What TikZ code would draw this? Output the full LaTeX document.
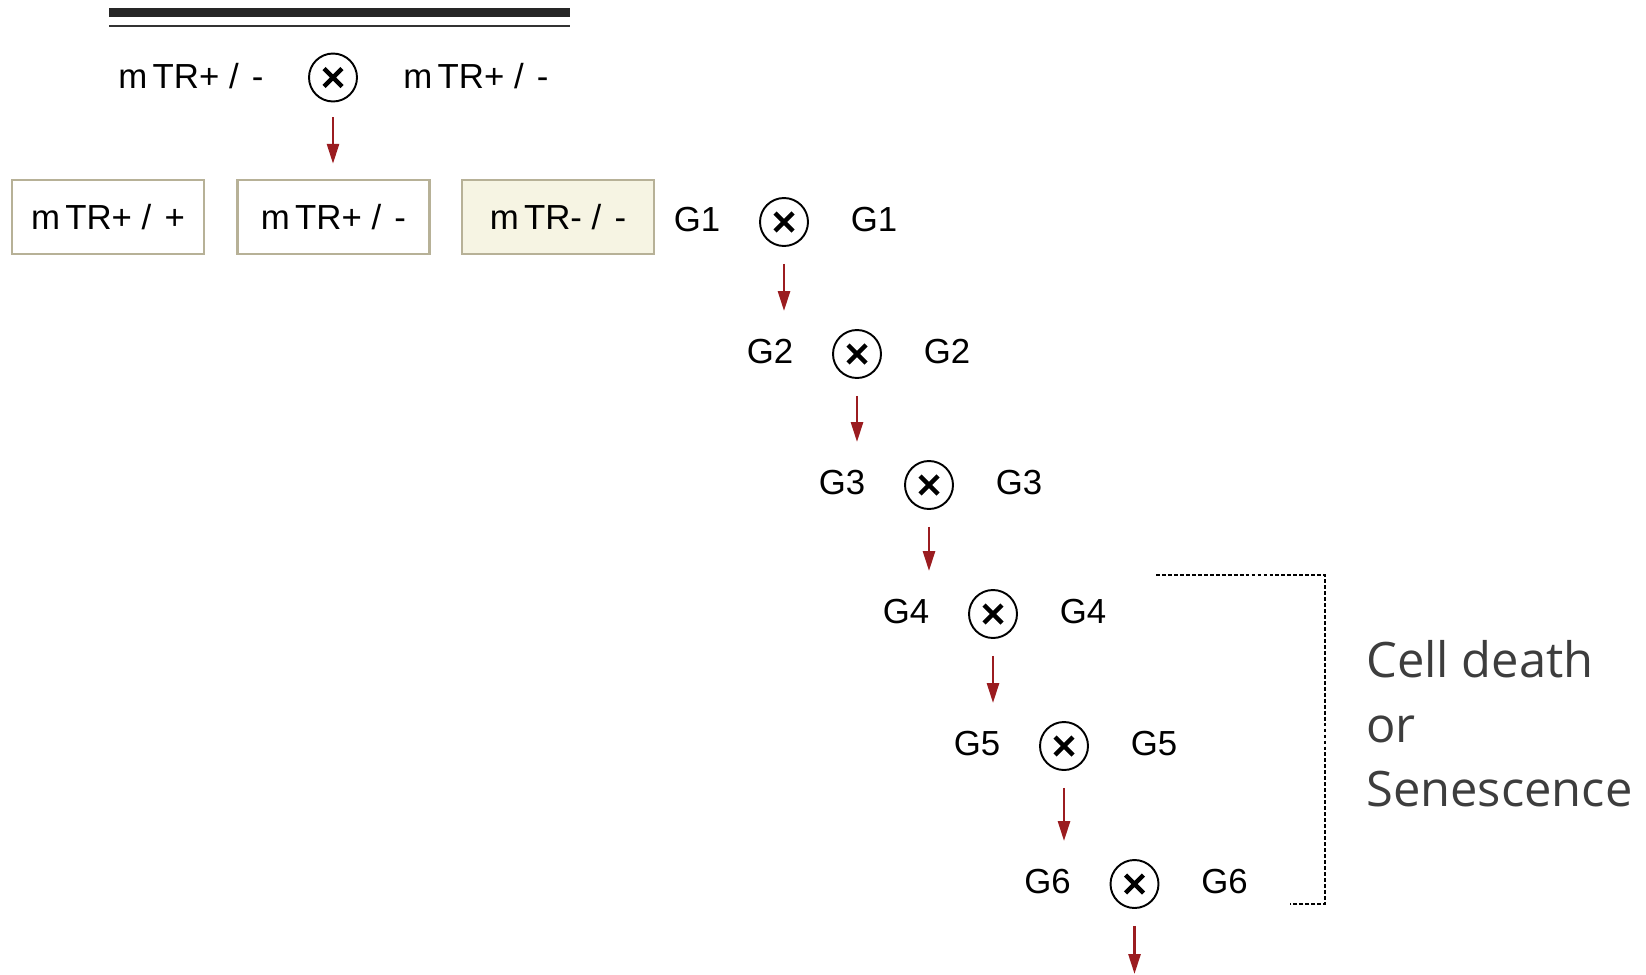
\documentclass[tikz,border=0pt]{standalone}
\usepackage{fontspec}
\setmainfont{Liberation Sans}
\newfontfamily\notefont{Open Sans}
\usetikzlibrary{arrows.meta}
\definecolor{arrowred}{HTML}{9B1C20}
\definecolor{boxedge}{HTML}{B7B197}
\definecolor{boxfill}{HTML}{F6F4E3}
\definecolor{notegray}{HTML}{3D3D3D}
\tikzset{
  GenStyle/.style = { font = \fontsize{19.8}{24}\selectfont, inner sep = 0pt },
  CrossStyle/.style = { circle, draw, line width = 1.1pt, minimum size = 0.96cm,
                       inner sep = 0pt,
    path picture = {
      \draw[line width = 2.5pt]
        ([shift={(-0.18cm,-0.18cm)}]path picture bounding box.center) --
        ([shift={(0.18cm,0.18cm)}]path picture bounding box.center)
        ([shift={(-0.18cm,0.18cm)}]path picture bounding box.center) --
        ([shift={(0.18cm,-0.18cm)}]path picture bounding box.center);} },
  BoxStyle/.style = { rectangle, draw = boxedge, line width = 1.4pt,
                     minimum width = 3.84cm, minimum height = 1.48cm,
                     inner sep = 0pt, font = \fontsize{19.8}{24}\selectfont },
  EdgeStyle/.style = { -{Triangle[length=0.4cm, width=0.24cm]}, draw = arrowred,
                      line width = 1.5pt } }

\begin{document}
\begin{tikzpicture}[x=0.02cm, y=-0.02cm]
  \useasboundingbox (0,0) rectangle (1646,974);

  \draw[line width = 5.1pt, color = black!85] (109,12.8) -- (570,12.8);
  \draw[line width = 1pt, color = black!80] (109,25.7) -- (570,25.7);

  \node[CrossStyle] (c0) at (333,77.5) {};
  \node[GenStyle] (l0) at (191,76) {m\kern3pt TR+ /\kern2pt\ -};
  \node[GenStyle] (r0) at (476,76) {m\kern3pt TR+ /\kern2pt\ -};

  \node[BoxStyle] (b1) at (108,217) {m\kern3pt TR+ /\kern2pt\ +};
  \node[BoxStyle] (b2) at (333.5,217) {m\kern3pt TR+ /\kern2pt\ -};
  \node[BoxStyle, fill = boxfill] (b3) at (558,217) {m\kern3pt TR- /\kern2pt\ -};

  \node[CrossStyle] (c1) at (784,222) {};
  \node[GenStyle] (l1) at (697,220) {G1};
  \node[GenStyle] (r1) at (874,220) {G1};

  \node[CrossStyle] (c2) at (857,354) {};
  \node[GenStyle] (l2) at (770,352) {G2};
  \node[GenStyle] (r2) at (947,352) {G2};

  \node[CrossStyle] (c3) at (929,485) {};
  \node[GenStyle] (l3) at (842,483) {G3};
  \node[GenStyle] (r3) at (1019,483) {G3};

  \node[CrossStyle] (c4) at (993,614) {};
  \node[GenStyle] (l4) at (906,612) {G4};
  \node[GenStyle] (r4) at (1083,612) {G4};

  \node[CrossStyle] (c5) at (1064,746) {};
  \node[GenStyle] (l5) at (977,744) {G5};
  \node[GenStyle] (r5) at (1154,744) {G5};

  \node[CrossStyle] (c6) at (1134.5,884) {};
  \node[GenStyle] (l6) at (1047.5,882) {G6};
  \node[GenStyle] (r6) at (1224.5,882) {G6};

  \coordinate (tail) at (1134.5,974);

  \draw[EdgeStyle, shorten <= 0.3cm, shorten >= 0.3cm] (c0) -- (c0 |- b2.north);
  \draw[EdgeStyle, shorten <= 0.34cm, shorten >= 0.36cm] (c1) -- (c1 |- c2.north);
  \draw[EdgeStyle, shorten <= 0.34cm, shorten >= 0.36cm] (c2) -- (c2 |- c3.north);
  \draw[EdgeStyle, shorten <= 0.34cm, shorten >= 0.36cm] (c3) -- (c3 |- c4.north);
  \draw[EdgeStyle, shorten <= 0.34cm, shorten >= 0.36cm] (c4) -- (c4 |- c5.north);
  \draw[EdgeStyle, shorten <= 0.34cm, shorten >= 0.36cm] (c5) -- (c5 |- c6.north);
  \draw[EdgeStyle, shorten <= 0.34cm] (c6) -- (tail);

  \coordinate (brtop) at (1156,575);
  \coordinate (brcorner) at (1325,904);
  \coordinate (brbot) at (1290,904);
  \draw[line width = 1.3pt, dash pattern = on 2.2pt off 1.2pt]
    (brtop) -| (brcorner) -- (brbot);

  \node[font = \notefont\fontsize{27.8}{36.8}\selectfont, text = notegray,
        align = left, anchor = west, inner sep = 0pt] (note) at (1366,724)
        {Cell death\\or\\Senescence};

\end{tikzpicture}
\end{document}
